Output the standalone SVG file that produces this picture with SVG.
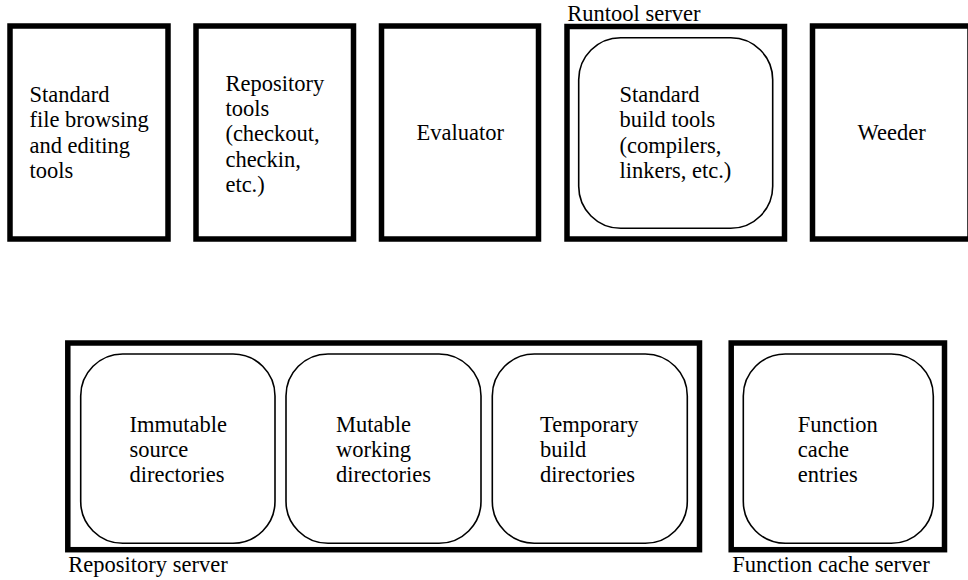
<svg xmlns="http://www.w3.org/2000/svg" width="968" height="580" viewBox="0 0 968 580" font-family="Liberation Serif, serif" font-size="22.5">
<style>
.outer{fill:none;stroke:#000;stroke-width:5.5}
.inner{fill:none;stroke:#000;stroke-width:1.6}
</style>
<rect width="968" height="580" fill="#fff"/>
<g id="connectors"></g>
<g id="file-tools">
<rect class="outer" x="10" y="26" width="158" height="213"/>
<text><tspan x="29.5" y="101.7">Standard</tspan><tspan x="29.5" y="127.2">file browsing</tspan><tspan x="29.5" y="152.7">and editing</tspan><tspan x="29.5" y="178">tools</tspan></text>
</g>
<g id="repo-tools">
<rect class="outer" x="196" y="26" width="157.5" height="213"/>
<text><tspan x="225.4" y="91">Repository</tspan><tspan x="225.4" y="116.2">tools</tspan><tspan x="225.4" y="141.4">(checkout,</tspan><tspan x="225.4" y="166.6">checkin,</tspan><tspan x="225.4" y="191.8">etc.)</tspan></text>
</g>
<g id="evaluator">
<rect class="outer" x="381.5" y="26" width="157" height="213"/>
<text x="416.5" y="140">Evaluator</text>
</g>
<g id="runtool-server">
<rect class="outer" x="567" y="26.5" width="217.5" height="212.5"/>
<text x="567.3" y="20.7">Runtool server</text>
<g id="build-tools">
<rect class="inner" x="578.7" y="37.7" width="194" height="190.6" rx="42" ry="42"/>
<text><tspan x="619.5" y="101.7">Standard</tspan><tspan x="619.5" y="127.2">build tools</tspan><tspan x="619.5" y="152.7">(compilers,</tspan><tspan x="619.5" y="178">linkers, etc.)</tspan></text>
</g>
</g>
<g id="weeder">
<rect class="outer" x="812.5" y="26" width="157.5" height="213"/>
<text x="857.5" y="140">Weeder</text>
</g>
<g id="repository-server">
<rect class="outer" x="67.8" y="343" width="631.7" height="206.7"/>
<text x="68.3" y="572">Repository server</text>
<g id="immutable">
<rect class="inner" x="80.7" y="354" width="194.3" height="189.3" rx="42" ry="42"/>
<text><tspan x="129.5" y="431.7">Immutable</tspan><tspan x="129.5" y="456.7">source</tspan><tspan x="129.5" y="481.7">directories</tspan></text>
</g>
<g id="mutable">
<rect class="inner" x="286" y="354" width="195" height="189.3" rx="42" ry="42"/>
<text><tspan x="336" y="431.7">Mutable</tspan><tspan x="336" y="456.7">working</tspan><tspan x="336" y="481.7">directories</tspan></text>
</g>
<g id="temporary">
<rect class="inner" x="492.3" y="354" width="195" height="189.3" rx="42" ry="42"/>
<text><tspan x="540" y="431.7">Temporary</tspan><tspan x="540" y="456.7">build</tspan><tspan x="540" y="481.7">directories</tspan></text>
</g>
</g>
<g id="function-cache-server">
<rect class="outer" x="731.2" y="343" width="213.3" height="206.7"/>
<text x="732.3" y="572">Function cache server</text>
<g id="cache-entries">
<rect class="inner" x="743.3" y="354" width="190" height="189.3" rx="42" ry="42"/>
<text><tspan x="797.8" y="431.7">Function</tspan><tspan x="797.8" y="456.7">cache</tspan><tspan x="797.8" y="481.7">entries</tspan></text>
</g>
</g>
</svg>
